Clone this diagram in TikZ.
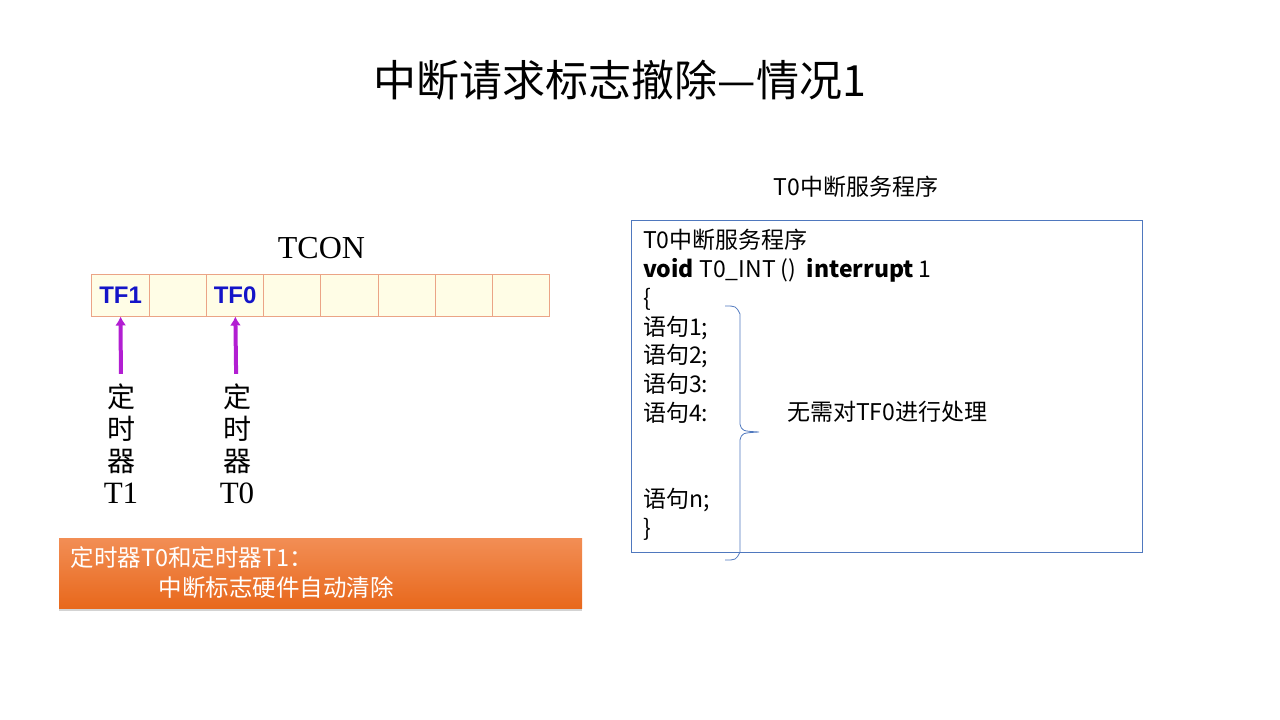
\documentclass[tikz,border=0pt]{standalone}
\usepackage{fontspec}
\setmainfont{Noto Sans CJK SC}
\newfontfamily\serifen{Liberation Serif}
\newfontfamily\flagfont{Liberation Sans}
\usetikzlibrary{positioning,arrows.meta,shadows}
\definecolor{cellfill}{HTML}{FFFDE6}
\definecolor{cellline}{HTML}{EBA486}
\definecolor{flagblue}{HTML}{1414C8}
\definecolor{arrowpurple}{HTML}{B21ED2}
\definecolor{boxtop}{HTML}{F28E55}
\definecolor{boxbottom}{HTML}{E8681C}
\definecolor{codeline}{HTML}{4F78BE}

\begin{document}
\begin{tikzpicture}
  [x=1pt, y=-1pt, node distance=10pt,
  regcell/.style={rectangle, draw=cellline, fill=cellfill, line width=1pt,
    minimum width=57.25pt, minimum height=42pt, inner sep=0pt},
  flagtxt/.style={font=\flagfont\bfseries\fontsize{24}{28}\selectfont, text=flagblue},
  flagarrow/.style={draw=arrowpurple, line width=4pt, -{Latex[length=9pt,width=11pt]}},
  vlabel/.style={align=center, inner sep=10pt, font=\fontsize{28}{32}\selectfont},
  notebox/.style={rectangle, top color=boxtop, bottom color=boxbottom, draw=none,
    minimum width=523pt, minimum height=70pt, text width=500pt, align=left,
    text=white, font=\fontsize{23.5}{30}\selectfont,
    drop shadow={opacity=0.35, shadow xshift=0pt, shadow yshift=-3pt}},
  codebox/.style={rectangle, draw=codeline, line width=0.8pt,
    minimum width=511pt, minimum height=332pt},
  plain/.style={font=\fontsize{23}{28.8}\selectfont, inner sep=0pt}]
  \useasboundingbox (0,0) rectangle (1280,720);

  % title
  \node [font=\fontsize{43}{50}\selectfont] (title) at (620,80) {中断请求标志撤除—情况1};

  % register
  \foreach \i in {0,...,7}
    \node [regcell] (cell\i) at ({120.6+57.25*\i},295) {};
  \node [flagtxt] (tf1) at (cell0) {TF1};
  \node [flagtxt] (tf0) at (cell2) {TF0};
  \node [above=14pt of cell3.north east, inner sep=0pt,
    font=\serifen\fontsize{32}{36}\selectfont] (tcon) {TCON};

  % timers
  \node [vlabel] (t1lbl) at (121,444) {定\\时\\器\\{\serifen\fontsize{31}{32}\selectfont T1}};
  \node [vlabel] (t0lbl) at (237,444) {定\\时\\器\\{\serifen\fontsize{31}{32}\selectfont T0}};
  \path [flagarrow] (t1lbl) -- (cell0);
  \path [flagarrow] (t0lbl) -- (cell2);

  \node [notebox] (note) at (320.5,573)
    {定时器T0和定时器T1：\\\hspace*{88pt}中断标志硬件自动清除};

  % service routine
  \node [plain] (isrtitle) at (856,187) {T0中断服务程序};
  \node [codebox] (isr) at (886.5,386) {};
  \node [plain, align=left, anchor=north west] (code) at (643,229)
    {T0中断服务程序\\
     \textbf{void} T0\_INT ()\ \ \textbf{interrupt} 1\\
     \{\\
     语句1;\\
     语句2;\\
     语句3:\\
     语句4:\\[57.6pt]
     语句n;\\
     \}};
  \draw [codeline, line width=0.8pt]
    (725,306) .. controls (736,306) .. (740,314) -- (740,424)
    .. controls (742,431) .. (759,432)
    .. controls (742,433) .. (740,440) -- (740,552)
    .. controls (736,560) .. (725,560);
  \node [plain, anchor=west] (nohandle) at (787,412) {无需对TF0进行处理};
\end{tikzpicture}
\end{document}
